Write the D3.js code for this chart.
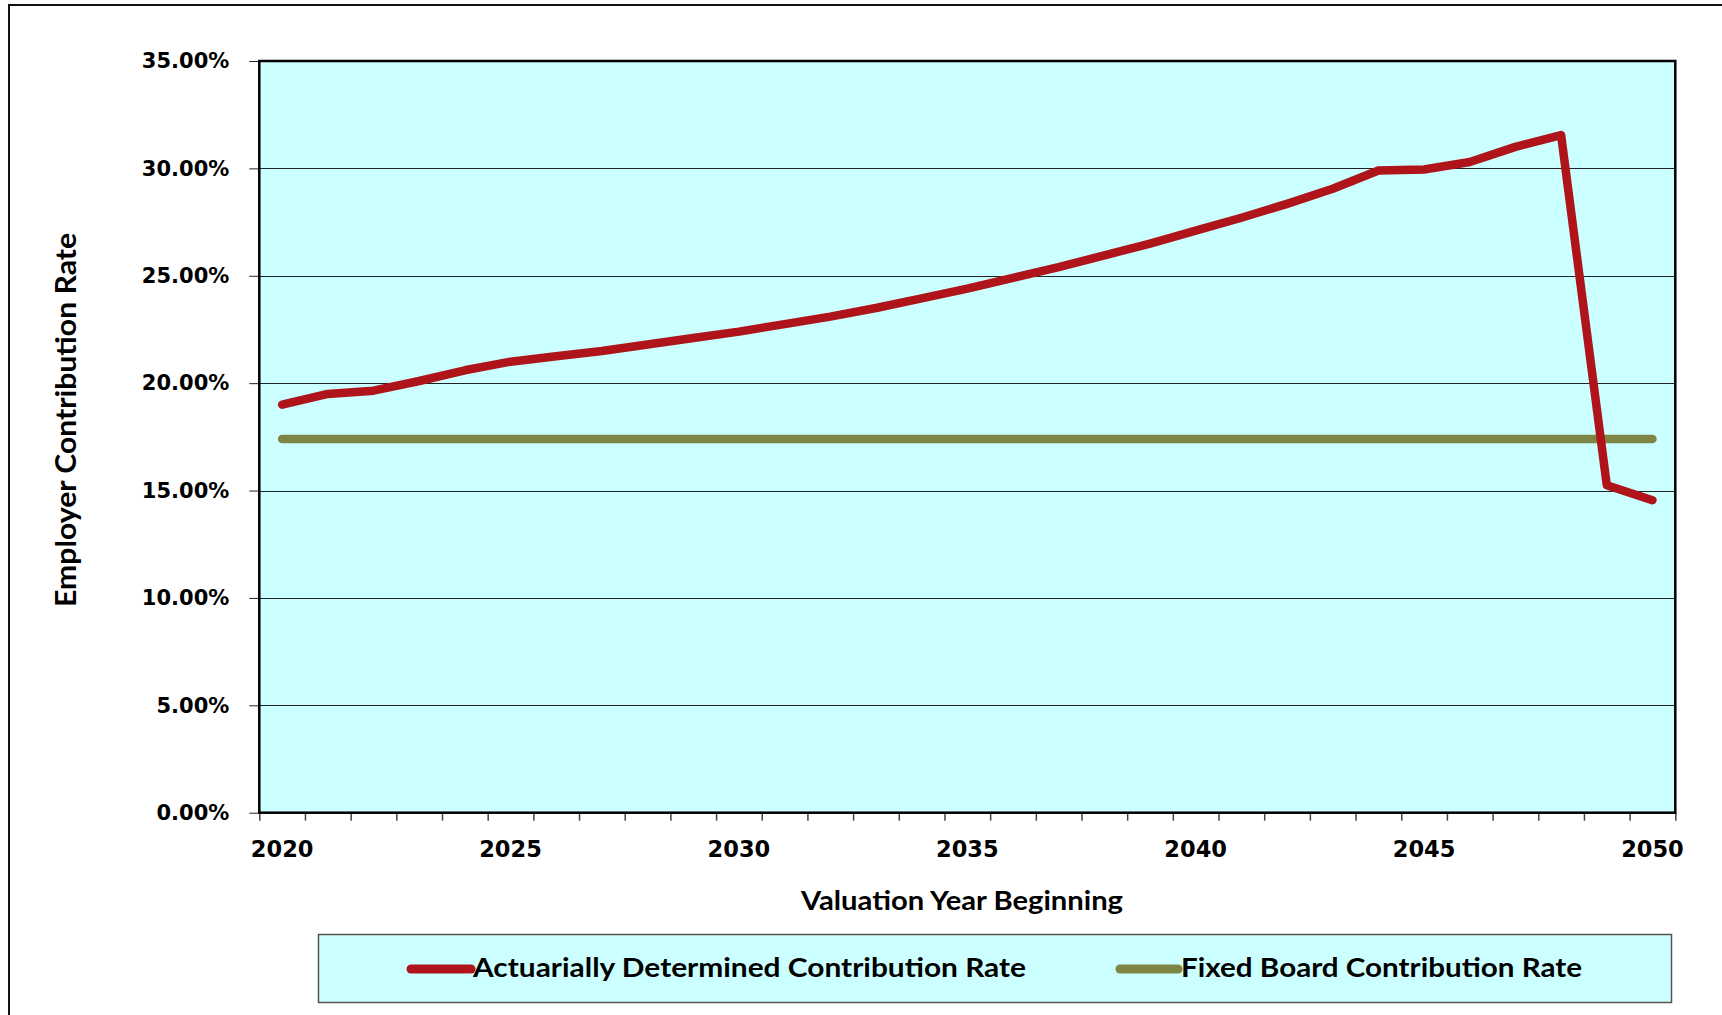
<!DOCTYPE html>
<html>
<head>
<meta charset="utf-8">
<script src="https://cdn.jsdelivr.net/npm/d3@7"></script>
<style>
  html, body { margin: 0; padding: 0; background: #fff; }
  svg { display: block; }
</style>
</head>
<body>
<svg id="chart" width="1722" height="1015"></svg>
<script>
// valuation years (category axis)
const years = d3.range(2020, 2051);
// actuarially determined employer contribution rate, %
const adcRate = [19.0, 19.5, 19.65, 20.1, 20.6, 21.0, 21.25, 21.5, 21.8, 22.1,
                 22.4, 22.75, 23.1, 23.5, 23.95, 24.4, 24.9, 25.4, 25.95, 26.5,
                 27.1, 27.7, 28.35, 29.05, 29.9, 29.95, 30.3, 31.0, 31.55, 15.25,
                 14.55];
// fixed board rate, %
const fixedRate = years.map(() => 17.4);
const yTicks = [0, 5, 10, 15, 20, 25, 30, 35];
const xLabelYears = [2020, 2025, 2030, 2035, 2040, 2045, 2050];

const series = [
  { name: "Actuarially Determined Contribution Rate", values: adcRate, color: "#AE1419" },
  { name: "Fixed Board Contribution Rate", values: fixedRate, color: "#7F8645" }
];

const svg = d3.select("#chart");
const plot = { left: 259.3, right: 1675.3, top: 61, bottom: 812.7 };

const x = d3.scaleBand().domain(years).range([plot.left, plot.right]).padding(0);
const xEdge = d3.scaleLinear().domain([2019.5, 2050.5]).range([plot.left, plot.right]);
const y = d3.scaleLinear().domain([0, 35]).range([plot.bottom, plot.top]);

// outer frame
svg.append("rect")
  .attr("x", 9).attr("y", 5).attr("width", 1800).attr("height", 1100)
  .attr("fill", "none").attr("stroke", "#111").attr("stroke-width", 2);

// plot background
svg.append("rect")
  .attr("x", plot.left).attr("y", plot.top)
  .attr("width", plot.right - plot.left).attr("height", plot.bottom - plot.top)
  .attr("fill", "#CCFFFF");

// gridlines
svg.append("g")
  .selectAll("line")
  .data(yTicks.slice(1, -1))
  .join("line")
  .attr("x1", plot.left).attr("x2", plot.right)
  .attr("y1", d => Math.round(y(d)) + 0.5).attr("y2", d => Math.round(y(d)) + 0.5)
  .attr("stroke", "#222").attr("stroke-width", 1);

// y axis
const gy = svg.append("g")
  .attr("transform", `translate(${plot.left},0)`)
  .call(d3.axisLeft(y).tickValues(yTicks).tickSize(10).tickPadding(20)
    .tickFormat(d => d.toFixed(2) + "%"));
gy.select(".domain").remove();
gy.selectAll(".tick line").attr("stroke", "#222");
gy.selectAll("text")
  .attr("font-family", "DejaVu Sans").attr("font-weight", "bold")
  .attr("font-size", 21).attr("fill", "#000");

// x ticks at category boundaries
const gx = svg.append("g")
  .attr("transform", `translate(0,${plot.bottom})`)
  .call(d3.axisBottom(xEdge).tickValues(d3.range(2019.5, 2051, 1)).tickSize(8).tickFormat(""));
gx.select(".domain").remove();
gx.selectAll(".tick line").attr("stroke", "#444").attr("stroke-width", 1.5);

// x labels at category centres (band axis already centres them)
const gxl = svg.append("g")
  .attr("transform", `translate(0,${plot.bottom})`)
  .call(d3.axisBottom(x).tickValues(xLabelYears).tickSize(0).tickPadding(28));
gxl.select(".domain").remove();
gxl.selectAll("text")
  .attr("font-family", "DejaVu Sans").attr("font-weight", "bold")
  .attr("font-size", 22.5).attr("fill", "#000");

// plot border
svg.append("rect")
  .attr("x", plot.left).attr("y", plot.top)
  .attr("width", plot.right - plot.left).attr("height", plot.bottom - plot.top)
  .attr("fill", "none").attr("stroke", "#000").attr("stroke-width", 2.5);

// lines
const line = d3.line()
  .x((d, i) => x(years[i]) + x.bandwidth() / 2)
  .y(d => y(d));

svg.append("g")
  .selectAll("path")
  .data(series.slice().reverse())
  .join("path")
  .attr("d", d => line(d.values))
  .attr("fill", "none")
  .attr("stroke", d => d.color)
  .attr("stroke-width", 8.5)
  .attr("stroke-linecap", "round")
  .attr("stroke-linejoin", "round");

// axis titles
const titleFont = "Lato, 'Open Sans', sans-serif";
svg.append("text")
  .attr("transform", "translate(76,420) rotate(-90)")
  .attr("text-anchor", "middle")
  .attr("font-family", titleFont).attr("font-weight", "bold")
  .attr("font-size", 29)
  .attr("textLength", 374).attr("lengthAdjust", "spacingAndGlyphs")
  .text("Employer Contribution Rate");

svg.append("text")
  .attr("x", 962).attr("y", 910)
  .attr("text-anchor", "middle")
  .attr("font-family", titleFont).attr("font-weight", "bold")
  .attr("font-size", 26)
  .attr("textLength", 322).attr("lengthAdjust", "spacingAndGlyphs")
  .text("Valuation Year Beginning");

// legend
const legend = svg.append("g");
legend.append("rect")
  .attr("x", 318.5).attr("y", 934.5).attr("width", 1353).attr("height", 68)
  .attr("fill", "#CCFFFF").attr("stroke", "#555").attr("stroke-width", 1.5);

const legendItems = [
  { s: series[0], x0: 411, x1: 471, tx: 473, tw: 553 },
  { s: series[1], x0: 1120, x1: 1178, tx: 1181, tw: 401 }
];
legendItems.forEach(it => {
  legend.append("line")
    .attr("x1", it.x0).attr("x2", it.x1).attr("y1", 969).attr("y2", 969)
    .attr("stroke", it.s.color).attr("stroke-width", 9).attr("stroke-linecap", "round");
  legend.append("text")
    .attr("x", it.tx).attr("y", 977)
    .attr("font-family", titleFont).attr("font-weight", "bold")
    .attr("font-size", 27)
    .attr("textLength", it.tw).attr("lengthAdjust", "spacingAndGlyphs")
    .text(it.s.name);
});
</script>
</body>
</html>
